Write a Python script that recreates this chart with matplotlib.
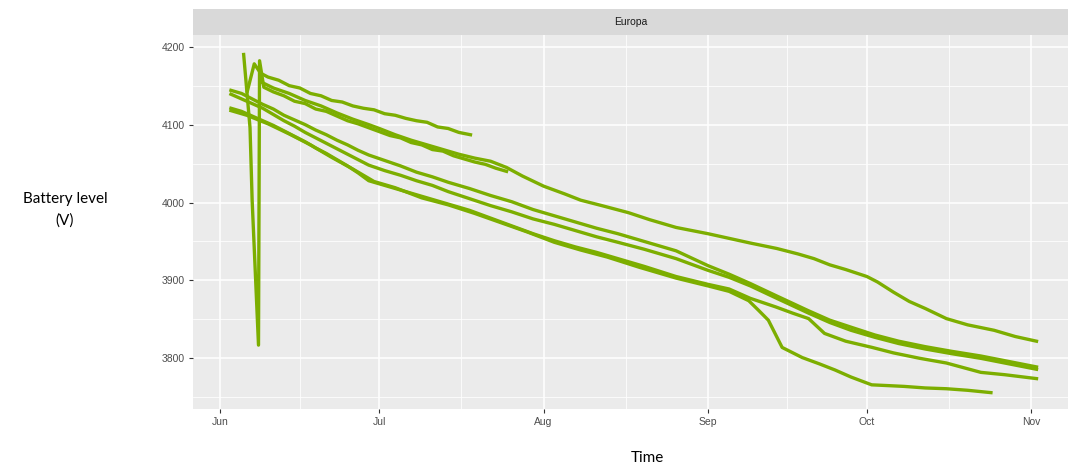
import numpy as np
import pandas as pd
import matplotlib
matplotlib.use("Agg")
import matplotlib.pyplot as plt

# days after 1 June, battery level (mV) for each logger
start = pd.Timestamp("2021-06-01")

s1_days = [5.1, 6.4, 7.6, 9, 11, 13, 15, 17, 19, 21, 23, 25, 27, 29, 31, 33, 35, 37, 39, 41, 43, 45, 47.2]
s1_vals = [4143, 4178, 4166, 4161, 4157, 4150, 4147, 4140, 4137, 4131, 4129, 4124, 4121, 4119, 4114, 4112,
           4108, 4105, 4103, 4097, 4095, 4090, 4087]

x_days = [4.4, 5.6, 6.0, 7.2, 7.4, 8.2, 10, 12, 14, 16, 18, 20, 22, 24, 26, 28, 30, 32, 34, 36, 38, 40,
          42, 44, 46, 48, 50, 52, 54]
x_vals = [4190, 4096, 4003, 3817, 4182, 4148, 4142, 4137, 4130, 4127, 4120, 4117, 4111, 4105, 4101, 4096,
          4091, 4086, 4083, 4077, 4074, 4068, 4066, 4060, 4056, 4052, 4049, 4044, 4040]

t_days = [7.6, 10, 13, 16, 19, 22, 25, 28, 30, 33, 36, 39, 42, 45, 48, 51, 54, 57, 61, 65, 68, 72, 77, 81,
          86, 92, 96, 100, 105, 109, 112, 115, 118, 122, 124, 127, 130, 133, 137, 141, 146, 150, 154]
t_vals = [4155, 4147, 4140, 4131, 4124, 4115, 4107, 4100, 4095, 4087, 4080, 4074, 4068, 4062, 4057, 4053,
          4045, 4034, 4021, 4011, 4003, 3996, 3987, 3978, 3968, 3960, 3954, 3948, 3941, 3934, 3928, 3920,
          3914, 3905, 3898, 3885, 3873, 3864, 3851, 3843, 3836, 3828, 3822]

mid_days = [2, 4, 6, 8, 10, 12, 14, 16, 18, 20, 22, 24, 26, 28, 31, 34, 37, 40, 43, 47, 51, 55, 59, 63,
            67, 71, 75, 80, 86, 92, 96, 100, 105, 111, 115, 119, 123.5, 128, 133, 138, 143.5, 148, 154]
ma_vals = [4144, 4140, 4133, 4126, 4120, 4112, 4106, 4100, 4093, 4087, 4080, 4074, 4067, 4061, 4054, 4047,
           4039, 4033, 4026, 4018, 4009, 4001, 3991, 3983, 3975, 3967, 3960, 3950, 3938, 3919, 3908, 3896,
           3880, 3861, 3849, 3840, 3830, 3822, 3815, 3809, 3803, 3797, 3789]
mb_vals = [4139, 4133, 4127, 4121, 4113, 4105, 4098, 4090, 4083, 4076, 4069, 4062, 4055, 4048, 4041, 4035,
           4028, 4022, 4014, 4005, 3996, 3988, 3979, 3972, 3964, 3956, 3949, 3940, 3928, 3913, 3904, 3893,
           3877, 3858, 3846, 3836, 3827, 3819, 3812, 3806, 3800, 3794, 3786]

b_days = [2, 4, 6, 8, 10, 12, 14, 16, 18, 20, 22, 24, 26, 28, 31, 34, 37, 40, 43, 47, 51, 55, 59, 63, 67,
          71, 75, 80, 86, 92, 96, 100, 104.8, 108, 111, 114, 118, 123, 127, 132, 137, 143.5, 148, 154]
b_vals = [4121, 4117, 4111, 4105, 4099, 4092, 4085, 4078, 4070, 4063, 4055, 4047, 4038, 4028, 4022, 4016,
          4010, 4004, 3998, 3990, 3980, 3970, 3960, 3951, 3943, 3936, 3928, 3918, 3905, 3895, 3889, 3877,
          3866, 3858, 3851, 3832, 3822, 3814, 3807, 3800, 3794, 3782, 3779, 3774]

d_days = [2, 5, 9, 13, 17, 21, 25, 29, 33, 38, 43, 48, 53, 58, 63, 68, 73, 79, 86, 92, 96, 99.7, 101.5,
          103.4, 106, 109.8, 113, 116, 119, 122.9, 126, 129, 133, 137, 141, 145.4]
d_vals = [4118, 4112, 4101, 4088, 4074, 4058, 4043, 4027, 4019, 4006, 3997, 3986, 3974, 3962, 3949, 3939,
          3930, 3917, 3903, 3893, 3886, 3874, 3862, 3849, 3814, 3801, 3793, 3785, 3776, 3766, 3765, 3764,
          3762, 3761, 3759, 3756]

series = [(s1_days, s1_vals), (x_days, x_vals), (t_days, t_vals), (mid_days, ma_vals),
          (mid_days, mb_vals), (b_days, b_vals), (d_days, d_vals)]

month_ticks = pd.date_range("2021-06-01", "2021-11-01", freq="MS")
month_labels = ["Jun", "Jul", "Aug", "Sep", "Oct", "Nov"]
y_ticks = [3800, 3900, 4000, 4100, 4200]

fig = plt.figure(figsize=(10.71, 4.72), dpi=100)
ax = fig.add_axes([0.180, 0.1335, 0.817, 0.7923])
ax.set_facecolor("#EBEBEB")

for days, vals in series:
    t = start + pd.to_timedelta(days, unit="D")
    ax.plot(t, vals, color="#7CAE00", lw=2.4, solid_joinstyle="round")

ax.set_xlim(start - pd.Timedelta(days=5.2), start + pd.Timedelta(days=159.9))
ax.set_ylim(3735, 4215)

ax.set_xticks(month_ticks)
ax.set_xticklabels(month_labels)
mids = month_ticks[:-1] + (month_ticks[1:] - month_ticks[:-1]) / 2
ax.set_xticks(mids, minor=True)
ax.set_yticks(y_ticks)
ax.set_yticks([3750, 3850, 3950, 4050, 4150], minor=True)

ax.grid(which="major", color="white", lw=1.1)
ax.grid(which="minor", color="white", lw=0.55)
ax.set_axisbelow(True)
for sp in ax.spines.values():
    sp.set_visible(False)
ax.tick_params(which="major", length=3, width=0.8, color="#333333", labelsize=7.5,
               labelcolor="#4D4D4D", pad=3)
ax.tick_params(which="minor", length=0)
for lab in ax.get_xticklabels() + ax.get_yticklabels():
    lab.set_family("Liberation Sans")

# facet strip
strip = fig.add_axes([0.180, 0.9258, 0.817, 0.0551])
strip.set_facecolor("#D9D9D9")
strip.set_xticks([])
strip.set_yticks([])
for sp in strip.spines.values():
    sp.set_visible(False)
strip.text(0.5, 0.5, "Europa", ha="center", va="center", fontsize=7.5, color="#1A1A1A",
           family="Liberation Sans")

fig.text(65 / 1071, 1 - 210 / 472, "Battery level\n(V)", ha="center", va="center",
         fontsize=11, family="Lato", linespacing=1.6)
fig.text(647 / 1071, 1 - 458 / 472, "Time", ha="center", va="center", fontsize=11, family="Lato")

fig.savefig("out.png", dpi=100)
